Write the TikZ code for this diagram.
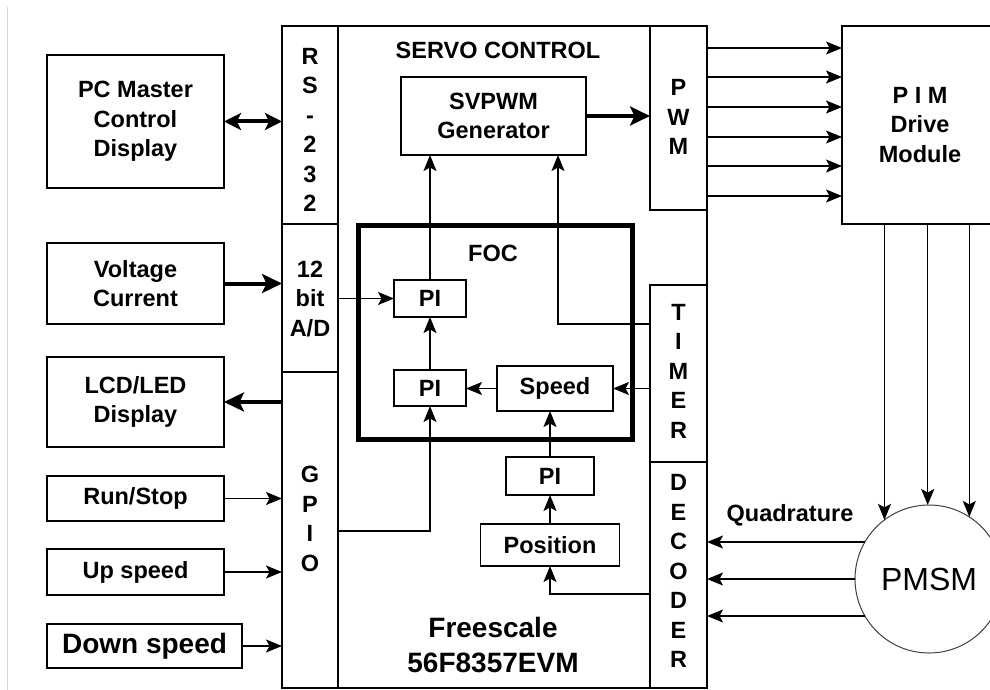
\documentclass[tikz,border=0pt]{standalone}
\usepackage{fontspec}
\setmainfont{Liberation Sans}
\usetikzlibrary{arrows.meta}
\begin{document}
\begin{tikzpicture}[x=1pt,y=-1pt,
  box/.style={draw, line width=1.3pt, inner sep=0pt, outer sep=0pt, font=\bfseries\fontsize{23.5}{29.5}\selectfont, align=center},
  lab/.style={inner sep=0pt, font=\bfseries\fontsize{23.5}{29.5}\selectfont, align=center},
  ar/.style={-{Stealth[length=16pt,width=13pt,inset=3.5pt]}, line width=1.3pt},
  tarr/.style={-{Stealth[length=20pt,width=19pt,inset=4.5pt]}, line width=4pt},
  dtarr/.style={{Stealth[length=17pt,width=17pt,inset=4pt]}-{Stealth[length=17pt,width=17pt,inset=4pt]}, line width=4pt},
]
\useasboundingbox (0,0) rectangle (990,690);
\clip (0,0) rectangle (990,690);
\fill[white] (0,0) rectangle (990,690);
\draw[black!15, line width=1pt] (7,7) -- (7,690);

% left boxes
\node[box, minimum width=177pt, minimum height=133pt] (pc) at (135.5,121.5) {PC Master\\Control\\Display};
\node[box, minimum width=177pt, minimum height=81pt] (volt) at (135.5,283.5) {Voltage\\Current};
\node[box, minimum width=177pt, minimum height=90pt] (lcd) at (135.5,402) {LCD/LED\\Display};
\node[box, minimum width=177pt, minimum height=45pt] (run) at (135.5,498.5) {Run/Stop};
\node[box, minimum width=177pt, minimum height=46pt] (up) at (135.5,572) {Up speed};
\node[box, minimum width=195pt, minimum height=44pt, font=\bfseries\fontsize{28}{34}\selectfont] (down) at (144.5,646) {Down speed};

% controller outline and cells
\node[box, minimum width=425pt, minimum height=662pt] (mcu) at (494.5,357) {};
\node[box, minimum width=56pt, minimum height=198pt] (rs) at (310,125) {};
\node[box, minimum width=56pt, minimum height=148pt] (ad) at (310,298) {};
\node[box, minimum width=56pt, minimum height=316pt] (gpio) at (310,530) {};
\node[box, minimum width=57pt, minimum height=184pt] (pwm) at (678.5,118) {};
\node[box, minimum width=57pt, minimum height=177pt] (timer) at (678.5,373.5) {};
\node[box, minimum width=57pt, minimum height=226pt] (dec) at (678.5,575) {};

\node[lab] (rsT) at (310,130) {R\\S\\-\\2\\3\\2};
\node[lab] (adT) at (310,299) {12\\bit\\A/D};
\node[lab] (gpioT) at (310,519) {G\\P\\I\\O};
\node[lab] (pwmT) at (678.5,117) {P\\W\\M};
\node[lab] (timerT) at (678.5,371) {T\\I\\M\\E\\R};
\node[lab] (decT) at (678.5,571) {D\\E\\C\\O\\D\\E\\R};

\node[lab] (servo) at (498,50) {SERVO CONTROL};
\node[box, minimum width=185pt, minimum height=78pt] (svpwm) at (493.5,116) {SVPWM\\Generator};

% FOC
\node[draw, line width=5pt, inner sep=0pt, minimum width=274pt, minimum height=214pt] (foc) at (495,332) {};
\node[lab] (focT) at (493,253) {FOC};
\node[box, minimum width=72pt, minimum height=37pt] (pia) at (430,298.5) {PI};
\node[box, minimum width=72pt, minimum height=36pt] (pib) at (430,388) {PI};
\node[box, minimum width=116pt, minimum height=45pt] (speed) at (555,388.5) {Speed};
\node[box, minimum width=88pt, minimum height=38pt] (pic) at (550,476) {PI};
\node[box, minimum width=139pt, minimum height=42pt] (pos) at (550,545) {Position};

\node[lab, font=\bfseries\fontsize{28}{35}\selectfont] (fs) at (493,645) {Freescale\\56F8357EVM};

% right side
\node[box, minimum width=156pt, minimum height=198pt] (pim) at (920,125) {P I M\\Drive\\Module};
\node[draw, circle, line width=1pt, black!75, text=black, inner sep=0pt, outer sep=0pt, minimum size=148pt, font=\fontsize{32}{38}\selectfont] (pmsm) at (929,579) {PMSM};
\node[lab] (quad) at (790,515) {Quadrature};

% connectors
\draw[dtarr] (pc.east) -- (pc.east -| rs.west);
\draw[tarr] (volt.east) -- (volt.east -| ad.west);
\draw[tarr] (lcd.east -| gpio.west) -- (lcd.east);
\draw[ar] (run.east) -- (run.east -| gpio.west);
\draw[ar] (up.east) -- (up.east -| gpio.west);
\draw[ar] (down.east) -- (down.east -| gpio.west);

\draw[tarr] (svpwm.east) -- (svpwm.east -| pwm.west);
\draw[ar] (ad.east |- pia.west) -- (pia.west);
\draw[ar] (pia.north) -- (pia.north |- svpwm.south);
\draw[ar] (pib.north) -- (pia.south);
\draw[ar] (speed.west) -- (speed.west -| pib.east);
\draw[ar] (timer.west |- speed.east) -- (speed.east);
\coordinate (tcorner) at (558,324);
\draw[ar] (timer.west |- tcorner) -- (tcorner) -- (tcorner |- svpwm.south);
\coordinate (gcorner) at (430,531);
\draw[ar] (gpio.east |- gcorner) -- (gcorner) -- (pib.south);
\draw[ar] (pic.north) -- (pic.north |- speed.south);
\draw[ar] (pos.north) -- (pic.south);
\coordinate (dcorner) at (550,594);
\draw[ar] (dec.west |- dcorner) -- (dcorner) -- (pos.south);

\foreach \yy/\nm in {48/a,77/b,107/c,137/d,166/e,196/f}{
  \coordinate (pw\nm) at (700,\yy);
  \draw[ar] (pw\nm -| pwm.east) -- (pw\nm -| pim.west);
}
\foreach \ang in {127.45,91.5,57.3}{
  \draw[ar] (pmsm.\ang |- pim.south) -- (pmsm.\ang);
}
\foreach \ang in {150.9,180,210}{
  \draw[ar] (pmsm.\ang) -- (pmsm.\ang -| dec.east);
}
\end{tikzpicture}
\end{document}
